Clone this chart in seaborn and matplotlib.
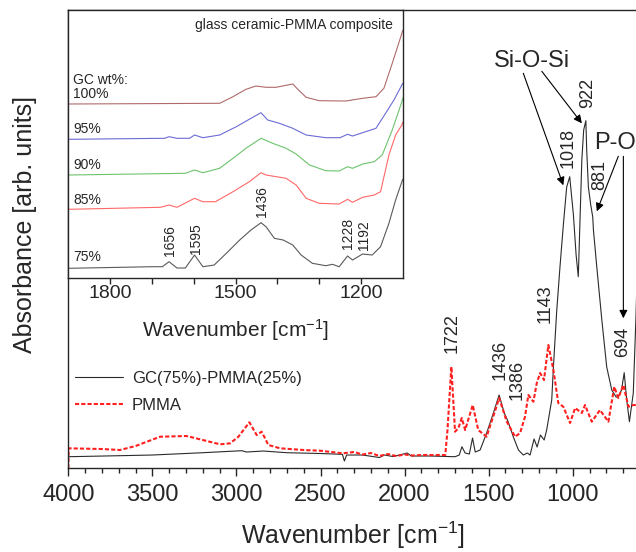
import numpy as np
import pandas as pd
import matplotlib
matplotlib.use("Agg")
import matplotlib.pyplot as plt
import seaborn as sns

# ---- main spectra (wavenumber, absorbance in arbitrary units) ----
gc_wn = [4000, 3700, 3500, 3200, 2968, 2940, 2840, 2700, 2500, 2370, 2358, 2345,
         2250, 2150, 2120, 2070, 2030, 1985, 1960, 1850, 1700, 1675, 1659, 1640,
         1615, 1596, 1580, 1551, 1512, 1472, 1438, 1407, 1386, 1353, 1323, 1294,
         1270, 1254, 1230, 1212, 1192, 1170, 1155, 1125, 1115, 1095, 1076, 1056,
         1036, 1018, 996, 980, 967, 946, 935, 922, 917, 907, 893, 881, 877, 857,
         827, 798, 768, 742, 729, 710, 694, 679, 663, 640, 624, 605]
gc_abs = [0.116, 0.126, 0.133, 0.156, 0.176, 0.163, 0.173, 0.156, 0.148, 0.14, 0.073, 0.133,
          0.133, 0.108, 0.133, 0.118, 0.133, 0.153, 0.123, 0.123, 0.116, 0.133, 0.216, 0.153,
          0.143, 0.303, 0.163, 0.183, 0.353, 0.553, 0.733, 0.553, 0.473, 0.313, 0.183, 0.133,
          0.153, 0.133, 0.293, 0.213, 0.333, 0.283, 0.383, 0.683, 1.013, 1.583, 2.013, 2.433,
          2.813, 2.916, 2.533, 2.133, 1.916, 3.083, 3.383, 3.476, 3.183, 2.813, 2.633, 2.513, 2.383, 2.013,
          1.483, 1.013, 0.783, 0.713, 0.713, 0.783, 0.956, 0.683, 0.466, 0.753, 1.516, 2.683]

pmma_wn = [4000, 3998, 3800, 3693, 3600, 3454, 3296, 3200, 3098, 3038, 2990, 2923,
           2880, 2850, 2810, 2740, 2600, 2503, 2366, 2300, 2250, 2200, 2150, 2100,
           2050, 2000, 1950, 1900, 1780, 1758, 1745, 1722, 1700, 1680, 1660, 1640,
           1595, 1562, 1512, 1490, 1460, 1438, 1392, 1343, 1313, 1284, 1264, 1234,
           1214, 1194, 1171, 1145, 1115, 1086, 1056, 1016, 986, 946, 927, 887, 838,
           788, 753, 729, 699, 669, 640, 610]
pmma_abs = [0.0, 0.20, 0.193, 0.183, 0.223, 0.316, 0.323, 0.283, 0.24, 0.25, 0.313, 0.46,
            0.333, 0.366, 0.233, 0.20, 0.183, 0.176, 0.15, 0.163, 0.138, 0.153, 0.123, 0.143,
            0.123, 0.138, 0.128, 0.133, 0.133, 0.133, 0.383, 1.016, 0.366, 0.403, 0.503, 0.383,
            0.633, 0.383, 0.316, 0.433, 0.583, 0.703, 0.466, 0.316, 0.353, 0.516, 0.733, 0.666,
            0.853, 0.953, 0.883, 1.233, 0.983, 0.653, 0.616, 0.453, 0.603, 0.553, 0.633, 0.466, 0.583,
            0.466, 0.816, 0.703, 0.833, 0.616, 0.633, 0.633]

# ---- inset spectra (1900-1100 cm-1, stacked) ----
in75_wn = [1900, 1700, 1675, 1659, 1640, 1620, 1598, 1578, 1551, 1522, 1490, 1463, 1439,
           1427, 1407, 1386, 1363, 1343, 1316, 1284, 1268, 1252, 1232, 1220, 1196, 1173,
           1153, 1133, 1117, 1102, 1100]
in75_abs = [0.10, 0.116, 0.116, 0.166, 0.103, 0.103, 0.233, 0.116, 0.133, 0.25, 0.383, 0.483, 0.556,
            0.516, 0.40, 0.383, 0.333, 0.233, 0.15, 0.126, 0.14, 0.116, 0.223, 0.183, 0.243, 0.233,
            0.316, 0.55, 0.783, 0.966, 0.99]
in85_wn = [1900, 1680, 1659, 1640, 1598, 1578, 1548, 1506, 1467, 1439, 1427, 1379, 1355,
           1331, 1300, 1252, 1232, 1220, 1196, 1168, 1153, 1133, 1117, 1102, 1100]
in85_abs = [0.69, 0.71, 0.733, 0.71, 0.80, 0.766, 0.766, 0.866, 0.966, 1.056, 1.033, 1.00, 0.933,
            0.80, 0.75, 0.743, 0.79, 0.76, 0.81, 0.833, 0.866, 1.233, 1.433, 1.533, 1.56]
in90_wn = [1900, 1620, 1598, 1578, 1538, 1506, 1475, 1439, 1411, 1379, 1355, 1323, 1284,
           1252, 1232, 1220, 1196, 1168, 1149, 1125, 1102, 1100]
in90_abs = [1.033, 1.05, 1.083, 1.056, 1.10, 1.20, 1.30, 1.40, 1.35, 1.30, 1.243, 1.133, 1.076,
            1.073, 1.116, 1.10, 1.143, 1.166, 1.233, 1.483, 1.766, 1.80]
in95_wn = [1900, 1670, 1659, 1640, 1610, 1598, 1578, 1538, 1498, 1463, 1439, 1423, 1395,
           1363, 1331, 1284, 1250, 1232, 1220, 1196, 1164, 1141, 1121, 1102, 1100]
in95_abs = [1.39, 1.40, 1.416, 1.40, 1.40, 1.433, 1.406, 1.433, 1.516, 1.60, 1.656, 1.583, 1.55,
            1.50, 1.433, 1.406, 1.406, 1.44, 1.423, 1.456, 1.50, 1.65, 1.783, 1.933, 1.95]
in100_wn = [1900, 1538, 1506, 1475, 1451, 1427, 1403, 1363, 1351, 1331, 1300, 1236, 1196,
            1164, 1145, 1125, 1102, 1100]
in100_abs = [1.743, 1.75, 1.816, 1.89, 1.923, 1.91, 1.91, 1.943, 1.89, 1.81, 1.776, 1.773, 1.80,
             1.816, 1.90, 2.15, 2.45, 2.48]

main_peaks = ["1722", "1436", "1386", "1143", "1018", "922", "881", "694"]
main_peak_pos = [(1720, 1.35), (1432, 1.08), (1333, 0.88), (1165, 1.65),
                 (1026, 3.20), (913, 3.75), (838, 2.93), (703, 1.26)]
inset_peaks = ["1656", "1595", "1436", "1228", "1192"]
inset_peak_pos = [(1657, 0.38), (1594, 0.40), (1436, 0.77), (1230, 0.45), (1192, 0.43)]
inset_series = ["100%", "95%", "90%", "85%", "75%"]
inset_label_y = [1.843, 1.493, 1.133, 0.783, 0.213]

sns.set_style("ticks")
plt.rcParams["font.family"] = ["Liberation Sans", "DejaVu Sans"]
plt.rcParams["mathtext.fontset"] = "custom"
plt.rcParams["mathtext.rm"] = "Liberation Sans"
plt.rcParams["mathtext.it"] = "Liberation Sans:italic"
plt.rcParams["axes.linewidth"] = 1.0

fig = plt.figure(figsize=(6.36, 5.52), dpi=100)
ax = fig.add_axes([0.1074, 0.1516, 0.8989, 0.8303])

sns.lineplot(x=gc_wn, y=gc_abs, ax=ax, sort=False, estimator=None, color="#2b2b2b",
             lw=0.8, label="GC(75%)-PMMA(25%)")
sns.lineplot(x=pmma_wn, y=pmma_abs, ax=ax, sort=False, estimator=None, color="#ff2020",
             lw=1.5, linestyle=(0, (2, 1)), label="PMMA")

ax.set_xlim(4000, 600)
ax.set_ylim(0, 4.583)
ax.set_yticks([])
ax.set_xticks(np.arange(4000, 999, -500))
ax.set_xticks(np.arange(4000, 599, -100), minor=True)
ax.tick_params(axis="x", which="major", length=5.5, width=1, labelsize=17, pad=6, direction="out")
ax.tick_params(axis="x", which="minor", length=3.5, width=1, direction="out")
ax.set_xlabel(r"Wavenumber [cm$^{-1}$]", fontsize=18, va="center")
ax.xaxis.set_label_coords(0.498, -0.146)
ax.set_ylabel("Absorbance [arb. units]", fontsize=18, va="center", ha="center")
ax.yaxis.set_label_coords(-0.0757, 0.531)

ax.legend(loc="upper left", bbox_to_anchor=(0.0117, 0.213), frameon=False, fontsize=12,
          handlelength=2.9, handletextpad=0.5, labelspacing=0.75, borderpad=0, borderaxespad=0)

for lab, (x, y) in zip(main_peaks, main_peak_pos):
    ax.text(x, y, lab, rotation=90, fontsize=13, ha="center", va="center")

arrow = dict(arrowstyle="-|>", color="black", lw=0.8, mutation_scale=12, shrinkA=0, shrinkB=0)
ax.text(1244, 4.07, "Si-O-Si", fontsize=17, ha="center", va="center")
ax.annotate("", xy=(1056, 2.83), xytext=(1294, 3.95), arrowprops=arrow)
ax.annotate("", xy=(946, 3.45), xytext=(1184, 3.97), arrowprops=arrow)
ax.text(748, 3.25, "P-O", fontsize=17, ha="center", va="center")
ax.annotate("", xy=(857, 2.57), xytext=(729, 3.12), arrowprops=arrow)
ax.annotate("", xy=(699, 1.50), xytext=(699, 3.12), arrowprops=arrow)

# ---- inset ----
axi = fig.add_axes([0.1074, 0.4958, 0.5258, 0.4861])
axi.set_facecolor("white")
inset_data = [(in100_wn, in100_abs, "#b06a6a"), (in95_wn, in95_abs, "#6b6bd6"),
              (in90_wn, in90_abs, "#6cc46c"), (in85_wn, in85_abs, "#ff6868"),
              (in75_wn, in75_abs, "#5a5a5a")]
for wn, ab, col in inset_data:
    sns.lineplot(x=wn, y=ab, ax=axi, sort=False, estimator=None, color=col, lw=0.8)

axi.set_xlim(1900, 1100)
axi.set_ylim(0, 2.683)
axi.set_yticks([])
axi.set_xticks([1800, 1500, 1200])
axi.set_xticks(np.arange(1800, 1100, -100), minor=True)
axi.tick_params(axis="x", which="major", length=4, width=1, labelsize=14, pad=0.5, direction="out")
axi.tick_params(axis="x", which="minor", length=4, width=1, direction="out")
axi.set_xlabel(r"Wavenumber [cm$^{-1}$]", fontsize=15, va="center")
axi.xaxis.set_label_coords(0.5015, -0.193)

ytr = axi.get_yaxis_transform()
axi.text(0.014, 1.983, "GC wt%:", transform=ytr, fontsize=10, ha="left", va="center")
for lab, y in zip(inset_series, inset_label_y):
    axi.text(0.014, y, lab, transform=ytr, fontsize=10, ha="left", va="center")
axi.text(0.971, 0.944, "glass ceramic-PMMA composite", transform=axi.transAxes,
         fontsize=10, ha="right", va="center")
for lab, (x, y) in zip(inset_peaks, inset_peak_pos):
    axi.text(x, y, lab, rotation=90, fontsize=10, ha="center", va="center")

fig.savefig("out.png", dpi=100)
